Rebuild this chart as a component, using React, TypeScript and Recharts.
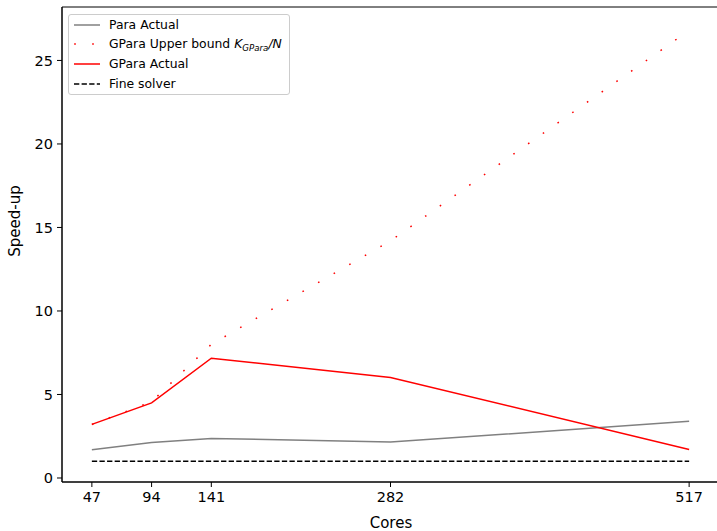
import React from 'react';
import { LineChart, Line, XAxis, YAxis, ReferenceArea, Legend } from 'recharts';

const cores = [47, 94, 141, 282, 517];
const paraActual = [1.69, 2.13, 2.37, 2.15, 3.39];
const gparaUpperBound = [3.2, 4.57, 8.0, 14.2, 26.8];
const gparaActual = [3.21, 4.5, 7.17, 6.02, 1.71];
const fineSolver = [1, 1, 1, 1, 1];
const xTicks = [47, 94, 141, 282, 517];
const yTicks = [0, 5, 10, 15, 20, 25];

const data = cores.map((c, i) => ({
  cores: c,
  para: paraActual[i],
  upper: gparaUpperBound[i],
  actual: gparaActual[i],
  fine: fineSolver[i],
}));

const FONT = "'DejaVu Sans', sans-serif";
const X_DOMAIN: [number, number] = [23.5, 540.5];
const Y_DOMAIN: [number, number] = [-0.24, 28.2];
const DOT_DASH = '1.6 16.4';
const FINE_DASH = '5.3 2.3';

function LegendBox() {
  const rowTop = (c: number) => c - 10;
  const handle = (kind: string) => (
    <svg width={28} height={20} style={{ position: 'absolute', left: 5, top: 0 }}>
      {kind === 'para' && <line x1={0} y1={10} x2={26} y2={10} stroke="#808080" strokeWidth={1.5} />}
      {kind === 'upper' && (
        <line x1={0.2} y1={10} x2={26} y2={10} stroke="#ff0000" strokeWidth={1.5} strokeDasharray={DOT_DASH} />
      )}
      {kind === 'actual' && <line x1={0} y1={10} x2={26} y2={10} stroke="#ff0000" strokeWidth={1.5} />}
      {kind === 'fine' && (
        <line x1={0} y1={10} x2={26} y2={10} stroke="#000" strokeWidth={1.5} strokeDasharray={FINE_DASH} />
      )}
    </svg>
  );
  const rows: { kind: string; c: number; label: React.ReactNode }[] = [
    { kind: 'para', c: 11, label: 'Para Actual' },
    {
      kind: 'upper',
      c: 30,
      label: (
        <>
          GPara Upper bound <i>K</i>
          <span style={{ fontStyle: 'italic', fontSize: '0.7em', position: 'relative', top: '0.3em' }}>GPara</span>
          <i>/N</i>
        </>
      ),
    },
    { kind: 'actual', c: 50.3, label: 'GPara Actual' },
    { kind: 'fine', c: 69.7, label: 'Fine solver' },
  ];
  return (
    <div
      style={{
        position: 'relative',
        width: 222,
        height: 81,
        boxSizing: 'border-box',
        border: '1px solid #cccccc',
        borderRadius: 3,
        background: 'rgba(255,255,255,0.8)',
        fontFamily: FONT,
        fontSize: 12.4,
        color: '#000',
      }}
    >
      {rows.map((r) => (
        <div key={r.kind} style={{ position: 'absolute', left: 0, top: rowTop(r.c) - 1, height: 20, width: 220 }}>
          {handle(r.kind)}
          <div style={{ position: 'absolute', left: 40, top: 0, height: 20, lineHeight: '20px', whiteSpace: 'nowrap' }}>
            {r.label}
          </div>
        </div>
      ))}
    </div>
  );
}

export default function App() {
  return (
    <div
      style={{
        position: 'absolute',
        left: 0,
        top: 0,
        width: 717,
        height: 531,
        overflow: 'hidden',
        background: '#fff',
      }}
    >
      <LineChart width={740} height={531} data={data} margin={{ top: 7, right: 21, bottom: 0, left: 0 }}>
        <XAxis
          dataKey="cores"
          type="number"
          domain={X_DOMAIN}
          ticks={xTicks}
          interval={0}
          allowDataOverflow
          height={49}
          tickSize={5}
          tickMargin={5}
          stroke="#000"
          tick={{ fill: '#000', fontSize: 14.5, fontFamily: FONT }}
          label={{
            content: () => (
              <text x={391} y={528} textAnchor="middle" fill="#000" fontSize={15} fontFamily={FONT}>
                Cores
              </text>
            ),
          }}
        />
        <YAxis
          type="number"
          domain={Y_DOMAIN}
          ticks={yTicks}
          interval={0}
          allowDataOverflow
          width={62}
          tickSize={5}
          tickMargin={4}
          stroke="#000"
          tick={{ fill: '#000', fontSize: 14.5, fontFamily: FONT }}
          label={{
            content: () => (
              <text
                x={0}
                y={0}
                transform="translate(20,221) rotate(-90)"
                textAnchor="middle"
                fill="#000"
                fontSize={15}
                fontFamily={FONT}
              >
                Speed-up
              </text>
            ),
          }}
        />
        <ReferenceArea
          x1={X_DOMAIN[0]}
          x2={X_DOMAIN[1]}
          y1={Y_DOMAIN[0]}
          y2={Y_DOMAIN[1]}
          fill="none"
          fillOpacity={0}
          stroke="#000"
          strokeWidth={1}
          strokeOpacity={1}
          ifOverflow="visible"
        />
        <Line dataKey="para" type="linear" stroke="#808080" strokeWidth={1.5} dot={false} activeDot={false} isAnimationActive={false} />
        <Line
          dataKey="upper"
          type="linear"
          stroke="#ff0000"
          strokeWidth={1.5}
          strokeDasharray={DOT_DASH}
          dot={false}
          activeDot={false}
          isAnimationActive={false}
        />
        <Line dataKey="actual" type="linear" stroke="#ff0000" strokeWidth={1.5} dot={false} activeDot={false} isAnimationActive={false} />
        <Line
          dataKey="fine"
          type="linear"
          stroke="#000"
          strokeWidth={1.5}
          strokeDasharray={FINE_DASH}
          dot={false}
          activeDot={false}
          isAnimationActive={false}
        />
        <Legend
          layout="horizontal"
          verticalAlign="middle"
          align="center"
          wrapperStyle={{ position: 'absolute', left: 68, top: 14, width: 222, height: 81 }}
          content={() => <LegendBox />}
        />
      </LineChart>
    </div>
  );
}
